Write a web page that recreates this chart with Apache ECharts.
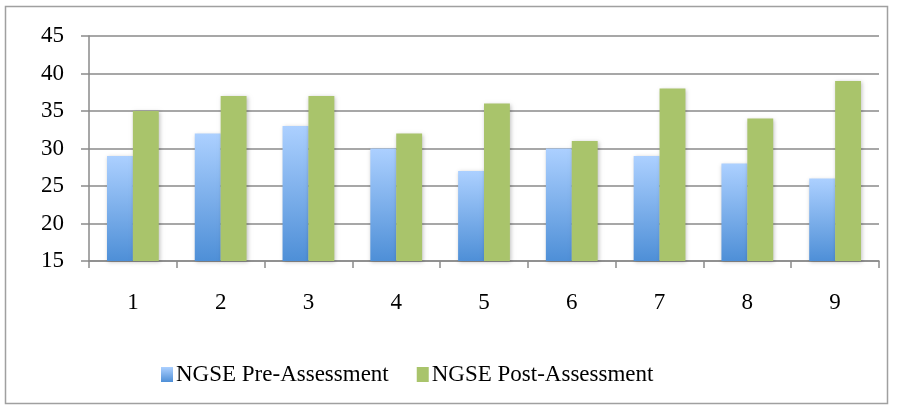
<!DOCTYPE html>
<html><head><meta charset="utf-8">
<script src="https://cdn.jsdelivr.net/npm/echarts@6/dist/echarts.min.js"></script>
<style>html,body{margin:0;padding:0;background:#fff}#c{width:897px;height:407px}</style>
</head><body><div id="c"></div>
<script>
const categories = ['1','2','3','4','5','6','7','8','9'];
const preValues = [29, 32, 33, 30, 27, 30, 29, 28, 26];
const postValues = [35, 37, 37, 32, 36, 31, 38, 34, 39];
const seriesNames = ['NGSE Pre-Assessment', 'NGSE Post-Assessment'];

const font = 'Liberation Serif';
const chart = echarts.init(document.getElementById('c'));
const blueGrad = new echarts.graphic.LinearGradient(0, 0, 0, 1, [
  {offset: 0, color: '#acd0ff'}, {offset: 1, color: '#4e8fd7'}]);
chart.setOption({
  animation: false,
  graphic: [{type: 'rect', shape: {x: 5.5, y: 6.5, width: 882, height: 397},
    style: {fill: 'none', stroke: '#a0a0a0', lineWidth: 1.5}, z: -1}],
  grid: {left: 89, right: 18, top: 36, bottom: 146, containLabel: false},
  legend: {
    top: 358, left: 156, itemWidth: 12, itemHeight: 15, itemGap: 28,
    textStyle: {fontFamily: font, fontSize: 23, color: '#000', padding: [0,0,0,-2]},
    icon: 'rect',
    data: [{name: seriesNames[0], itemStyle: {color: blueGrad}}, {name: seriesNames[1]}]
  },
  xAxis: {
    type: 'category', data: categories,
    axisLine: {lineStyle: {color: '#8a8a8a', width: 1.5}},
    axisTick: {show: true, length: 7, lineStyle: {color: '#8a8a8a', width: 1.5}},
    axisLabel: {fontFamily: font, fontSize: 23, color: '#000', margin: 30}
  },
  yAxis: {
    type: 'value', min: 15, max: 45, interval: 5,
    axisLine: {show: true, lineStyle: {color: '#8a8a8a', width: 1.5}},
    axisTick: {show: true, length: 8, lineStyle: {color: '#8a8a8a', width: 1.5}},
    splitLine: {lineStyle: {color: '#8a8a8a', width: 1.5}},
    axisLabel: {fontFamily: font, fontSize: 23, color: '#000', margin: 25, padding: [4,0,0,0]}
  },
  series: [
    {name: seriesNames[0], type: 'bar', data: preValues, barGap: '0%', barCategoryGap: '41%',
      itemStyle: {color: blueGrad, shadowColor: 'rgba(0,0,0,0.25)', shadowBlur: 4, shadowOffsetX: 1, shadowOffsetY: 1}},
    {name: seriesNames[1], type: 'bar', data: postValues, barGap: '0%', barCategoryGap: '41%',
      itemStyle: {color: '#a9c46b', shadowColor: 'rgba(0,0,0,0.25)', shadowBlur: 4, shadowOffsetX: 1, shadowOffsetY: 1}}
  ]
});
</script></body></html>
